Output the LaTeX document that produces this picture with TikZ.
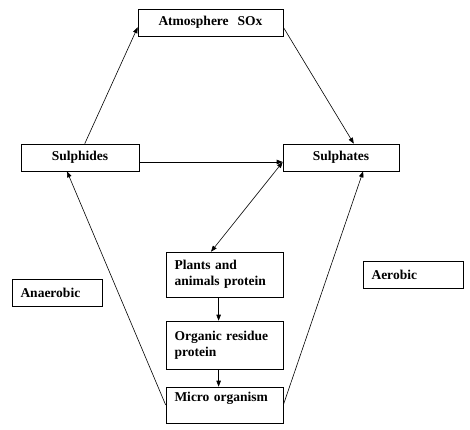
\documentclass[tikz,border=0pt]{standalone}
\usepackage{fontspec}
\setmainfont{Liberation Serif}
\usetikzlibrary{arrows.meta,calc}
\begin{document}
\begin{tikzpicture}[x=1pt,y=-1pt,
  box/.style={draw,line width=0.6pt,inner xsep=0pt,inner ysep=0pt,align=left,
     font=\fontsize{13.5}{16}\selectfont\bfseries},
  lbox/.style={box,inner xsep=8.5pt},
  arr/.style={line width=0.6pt,-{Triangle[length=6pt,width=4.5pt]}},
  darr/.style={line width=0.6pt,{Triangle[length=6pt,width=4.5pt]}-{Triangle[length=6pt,width=4.5pt]}}]
\useasboundingbox (0,0) rectangle (470,429);
\node[box,minimum width=145,minimum height=27,text width=145,align=center] (atm) at (210.5,22.5) {Atmosphere~~SOx};
\node[box,minimum width=118,minimum height=27,text width=118,align=center] (sid) at (80,157.5) {Sulphides\hspace{14pt}};
\node[box,minimum width=116,minimum height=27,text width=116,align=center] (sat) at (341,157.5) {Sulphates};
\node[lbox,minimum width=117,minimum height=45,text width=100] (pla) at (224.5,274.5) {Plants and\\animals protein};
\node[lbox,minimum width=117,minimum height=48,text width=100] (org) at (224.5,345) {Organic residue\\protein};
\node[lbox,minimum width=117,minimum height=36,text width=100] (mic) at (224.5,405) {Micro organism\\\mbox{}};
\node[lbox,minimum width=90,minimum height=27,text width=73] (ana) at (57,292.5) {Anaerobic};
\node[lbox,minimum width=100,minimum height=27,text width=83] (aer) at (413,274.5) {Aerobic};
% connectors
\draw[arr] ($(sid.north west)!0.54!(sid.north east)$) -- ($(atm.south west)!0.33!(atm.north west)$);
\draw[arr] ($(atm.south east)!0.33!(atm.north east)$) -- ($(sat.north west)!0.61!(sat.north east)$);
\draw[arr] ($(sid.east)+(0,4.5)$) -- ($(sat.west)+(0,4.5)$);
\draw[darr] ($(sat.west)+(0,4.5)$) -- ($(pla.north west)!0.385!(pla.north east)$);
\draw[arr] ($(pla.south west)!0.45!(pla.south east)$) -- ($(org.north west)!0.45!(org.north east)$);
\draw[arr] ($(org.south west)!0.45!(org.south east)$) -- ($(mic.north west)!0.45!(mic.north east)$);
\draw[arr] (mic.west) -- ($(sid.south west)!0.39!(sid.south east)$);
\draw[arr] (mic.east) -- ($(sat.south west)!0.69!(sat.south east)$);
\end{tikzpicture}
\end{document}
